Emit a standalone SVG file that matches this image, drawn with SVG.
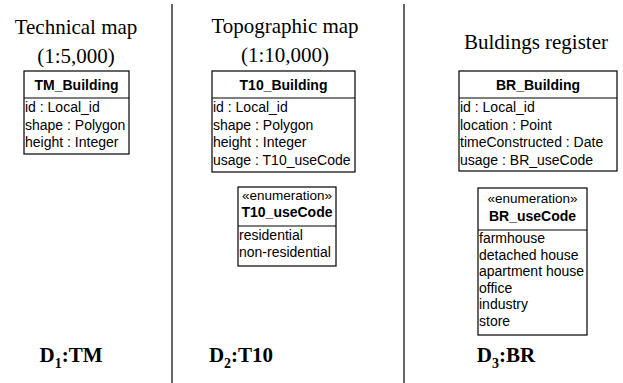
<svg xmlns="http://www.w3.org/2000/svg" width="623" height="383" viewBox="0 0 623 383">
<style>
.title{font-family:"Liberation Serif","Times New Roman",serif;font-size:21px;fill:#000;text-anchor:middle}
.lbl{font-family:"Liberation Serif","Times New Roman",serif;font-size:21px;font-weight:bold;fill:#000;text-anchor:middle}
.box{fill:#fff;stroke:#000;stroke-width:1.2}
.sep{stroke:#000;stroke-width:1.2}
.hd{font-family:"Liberation Sans",Arial,sans-serif;font-size:14px;font-weight:bold;fill:#000;text-anchor:middle}
.st{font-family:"Liberation Sans",Arial,sans-serif;font-size:13.5px;fill:#000;text-anchor:middle}
.at{font-family:"Liberation Sans",Arial,sans-serif;font-size:14px;fill:#000}
.div{stroke:#333;stroke-width:1.5}
</style>
<rect width="623" height="383" fill="#fff"/>
<g id="dividers">
<line class="div" x1="172" y1="4" x2="172" y2="383"/>
<line class="div" x1="404" y1="4" x2="404" y2="383"/>
</g>
<g id="titles">
<text class="title" x="76" y="34">Technical map</text>
<text class="title" x="76" y="63">(1:5,000)</text>
<text class="title" x="285" y="33">Topographic map</text>
<text class="title" x="285" y="62">(1:10,000)</text>
<text class="title" x="536" y="49">Buldings register</text>
</g>
<g id="TM_Building">
<rect class="box" x="24" y="71" width="105" height="83"/>
<line class="sep" x1="24" y1="98" x2="129" y2="98"/>
<text class="hd" x="76.5" y="90">TM_Building</text>
<text class="at" x="25" y="112">id : Local_id</text>
<text class="at" x="25" y="129.5">shape : Polygon</text>
<text class="at" x="25" y="147">height : Integer</text>
</g>
<g id="T10_Building">
<rect class="box" x="212" y="71" width="143" height="101"/>
<line class="sep" x1="212" y1="98" x2="355" y2="98"/>
<text class="hd" x="283.5" y="90">T10_Building</text>
<text class="at" x="213" y="112">id : Local_id</text>
<text class="at" x="213" y="129.5">shape : Polygon</text>
<text class="at" x="213" y="147">height : Integer</text>
<text class="at" x="213" y="164.5">usage : T10_useCode</text>
</g>
<g id="T10_useCode">
<rect class="box" x="238" y="187" width="98" height="79"/>
<line class="sep" x1="238" y1="226" x2="336" y2="226"/>
<text class="st" x="287" y="200">«enumeration»</text>
<text class="hd" x="287" y="217">T10_useCode</text>
<text class="at" x="239" y="240">residential</text>
<text class="at" x="239" y="257">non-residential</text>
</g>
<g id="BR_Building">
<rect class="box" x="459" y="71" width="158" height="100"/>
<line class="sep" x1="459" y1="98" x2="617" y2="98"/>
<text class="hd" x="538" y="90">BR_Building</text>
<text class="at" x="460" y="112">id : Local_id</text>
<text class="at" x="460" y="129.5">location : Point</text>
<text class="at" x="460" y="147">timeConstructed : Date</text>
<text class="at" x="460" y="164.5">usage : BR_useCode</text>
</g>
<g id="BR_useCode">
<rect class="box" x="478" y="188" width="109" height="147"/>
<line class="sep" x1="478" y1="230" x2="587" y2="230"/>
<text class="st" x="532.5" y="203">«enumeration»</text>
<text class="hd" x="532.5" y="221">BR_useCode</text>
<text class="at" x="479" y="243">farmhouse</text>
<text class="at" x="479" y="259.5">detached house</text>
<text class="at" x="479" y="276">apartment house</text>
<text class="at" x="479" y="292.5">office</text>
<text class="at" x="479" y="309">industry</text>
<text class="at" x="479" y="325.5">store</text>
</g>
<g id="labels">
<text class="lbl" x="71" y="362">D<tspan font-size="14" dy="6">1</tspan><tspan dy="-6">:TM</tspan></text>
<text class="lbl" x="241" y="362">D<tspan font-size="14" dy="6">2</tspan><tspan dy="-6">:T10</tspan></text>
<text class="lbl" x="506" y="362">D<tspan font-size="14" dy="6">3</tspan><tspan dy="-6">:BR</tspan></text>
</g>
</svg>
